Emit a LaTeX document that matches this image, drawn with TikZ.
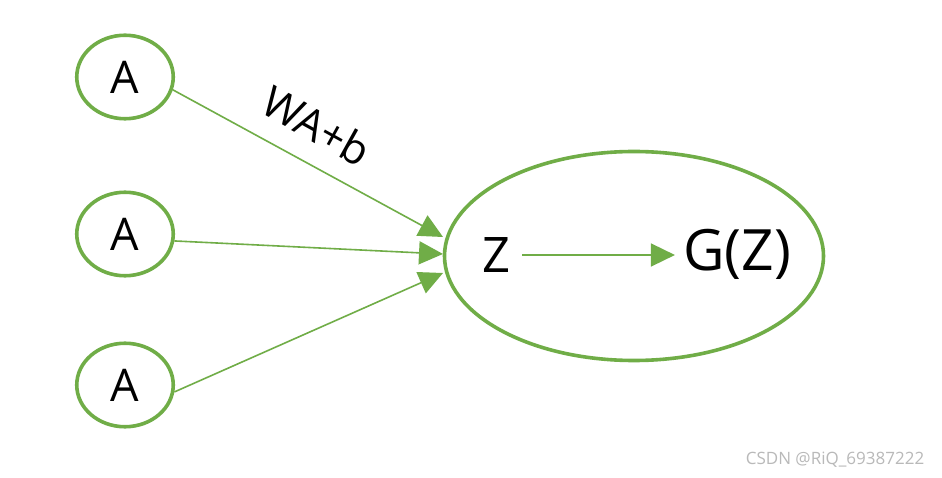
\documentclass[tikz,border=0pt]{standalone}
\usepackage{fontspec}
\setmainfont{Open Sans}
\usetikzlibrary{shapes.geometric,arrows.meta}
\definecolor{leaf}{RGB}{112,173,71}
\begin{document}
\begin{tikzpicture}[x=1pt,y=-1pt,
  small/.style={draw=leaf,line width=3.6pt,ellipse,minimum width=96.5pt,minimum height=83.5pt,inner sep=0pt,font=\fontsize{45}{50}\selectfont},
  big/.style={draw=leaf,line width=3.6pt,ellipse,minimum width=379pt,minimum height=209pt,inner sep=0pt},
  link/.style={draw=leaf,line width=1.6pt,-{Triangle[length=24pt,width=23pt]}},
  lbl/.style={inner sep=0pt}]
\useasboundingbox[fill=white] (0,0) rectangle (942,478);
\node[small] (a1) at (125,77) {A};
\node[small] (a2) at (125,234) {A};
\node[small] (a3) at (125,385) {A};
\node[big] (e) at (634,256) {};
\coordinate (t1) at (443,237);
\coordinate (t2) at (443,254);
\coordinate (t3) at (443,273);
\draw[link] (a1.-15) -- (t1);
\draw[link] (a2.-8) -- (t2);
\draw[link] (a3.-8) -- (t3);
\node[lbl,font=\fontsize{49}{54}\selectfont] (z) at (496,255) {Z};
\node[lbl,font=\fontsize{57}{62}\selectfont] (g) at (737,254) {G(Z)};
\draw[link,shorten <=12pt,shorten >=8pt] (z.east) -- (z.east -| g.west);
\node[lbl,rotate=-29,font=\fontsize{43}{48}\selectfont] (w) at (317,126) {WA+b};
\node[lbl,text=gray!55,font=\fontsize{17}{20}\selectfont] (wm) at (835,460) {CSDN @RiQ\_69387222};
\end{tikzpicture}
\end{document}
